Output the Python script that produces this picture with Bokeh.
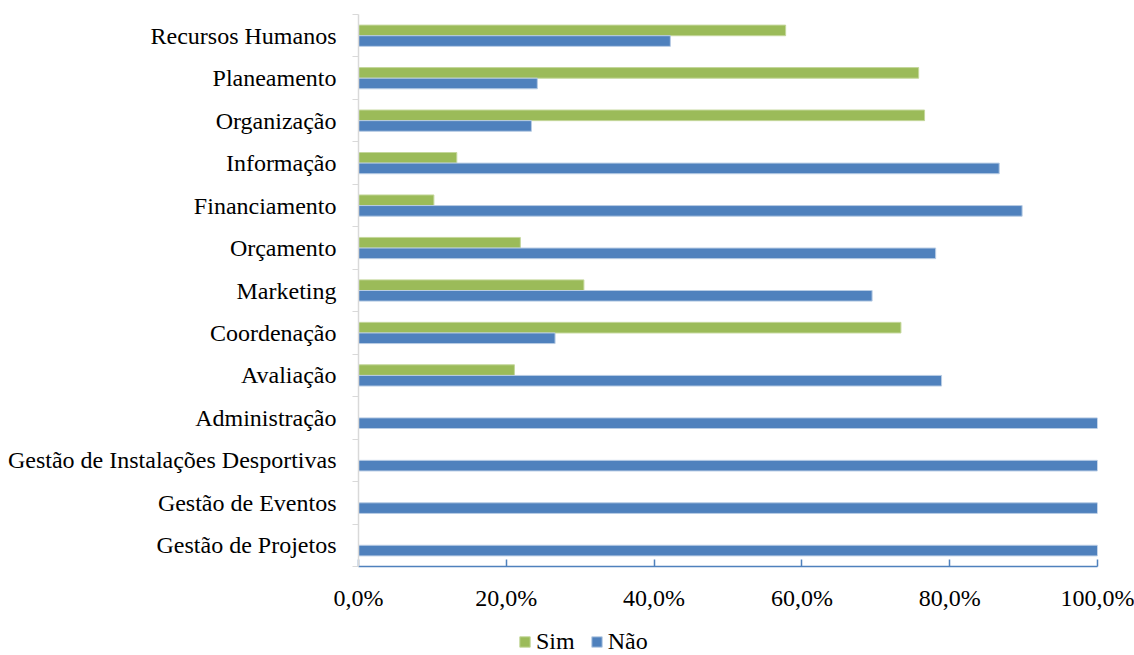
from bokeh.plotting import figure
from bokeh.layouts import column
from bokeh.models import FixedTicker, Legend, LegendItem, ColumnDataSource
from bokeh.transform import dodge
from bokeh.embed import file_html
from bokeh.resources import INLINE

# Data (bottom to top)
categories = ["Gestão de Projetos", "Gestão de Eventos", "Gestão de Instalações Desportivas",
              "Administração", "Avaliação", "Coordenação", "Marketing", "Orçamento",
              "Financiamento", "Informação", "Organização", "Planeamento", "Recursos Humanos"]
sim = [0.0, 0.0, 0.0, 0.0, 21.1, 73.4, 30.5, 21.9, 10.2, 13.3, 76.6, 75.8, 57.8]
nao = [100.0, 100.0, 100.0, 100.0, 78.9, 26.6, 69.5, 78.1, 89.8, 86.7, 23.4, 24.2, 42.2]
x_ticks = [0, 20, 40, 60, 80, 100]
x_tick_labels = ["0,0%", "20,0%", "40,0%", "60,0%", "80,0%", "100,0%"]
series_names = ["Sim", "Não"]

GREEN = "#9bbb59"
BLUE = "#4f81bd"
GREEN_EDGE = "#c4d79b"
BLUE_EDGE = "#b8cce4"
FONT = "Liberation Serif"

ypos = list(range(len(categories)))
src = ColumnDataSource(dict(y=ypos, sim=sim, nao=nao))

p = figure(width=1134, height=615, x_range=(0, 100), y_range=(-0.5, len(categories) - 0.5),
           output_backend="svg", toolbar_location=None,
           min_border_left=358, min_border_right=37, min_border_top=14, min_border_bottom=49)
p.outline_line_color = None
p.grid.visible = False
p.background_fill_color = "white"
p.border_fill_color = "white"

p.hbar(y=dodge("y", 0.125), left=0, right="sim", height=0.25, source=src,
       fill_color=GREEN, line_color=GREEN_EDGE, line_width=1)
p.hbar(y=dodge("y", -0.125), left=0, right="nao", height=0.25, source=src,
       fill_color=BLUE, line_color=BLUE_EDGE, line_width=1)

# y axis
ya = p.yaxis[0]
ya.ticker = FixedTicker(ticks=ypos, minor_ticks=[i - 0.5 for i in range(len(categories) + 1)])
ya.major_label_overrides = {i: c for i, c in enumerate(categories)}
ya.major_tick_line_color = None
ya.major_tick_out = 0
ya.major_tick_in = 0
ya.minor_tick_line_color = "#d9d9d9"
ya.minor_tick_out = 6
ya.minor_tick_in = 0
ya.axis_line_color = "#d9d9d9"
ya.axis_line_width = 1.5
ya.major_label_standoff = 16
ya.major_label_text_font = FONT
ya.major_label_text_font_size = "24px"
ya.major_label_text_color = "black"

# x axis
xa = p.xaxis[0]
xa.ticker = FixedTicker(ticks=x_ticks, minor_ticks=[])
xa.major_label_overrides = {t: l for t, l in zip(x_ticks, x_tick_labels)}
xa.axis_line_color = BLUE
xa.axis_line_width = 1.5
xa.major_tick_line_color = BLUE
xa.major_tick_line_width = 1.5
xa.major_tick_in = 7
xa.major_tick_out = 0
xa.minor_tick_line_color = None
xa.major_label_standoff = 18
xa.major_label_text_font = FONT
xa.major_label_text_font_size = "24px"
xa.major_label_text_color = "black"

# legend strip below the chart (same series, kept out of view)
q = figure(width=1134, height=40, x_range=(0, 100), y_range=(100, 101),
           output_backend="svg", toolbar_location=None,
           x_axis_location=None, y_axis_location=None,
           min_border_left=0, min_border_right=0, min_border_top=0, min_border_bottom=0)
q.outline_line_color = None
q.grid.visible = False
q.border_fill_color = "white"
q.background_fill_color = "white"
l_sim = q.hbar(y=dodge("y", 0.125), left=0, right="sim", height=0.25, source=src,
               fill_color=GREEN, line_color=GREEN_EDGE, line_width=1)
l_nao = q.hbar(y=dodge("y", -0.125), left=0, right="nao", height=0.25, source=src,
               fill_color=BLUE, line_color=BLUE_EDGE, line_width=1)

legend = Legend(items=[LegendItem(label=series_names[0], renderers=[l_sim]),
                       LegendItem(label=series_names[1], renderers=[l_nao])],
                location=(160, 0), orientation="horizontal",
                border_line_color=None, background_fill_alpha=0,
                glyph_width=13, glyph_height=13, label_standoff=5, spacing=15,
                padding=0, margin=0,
                label_text_font=FONT, label_text_font_size="24px", label_text_color="black")
q.add_layout(legend)

layout = column(p, q, spacing=0)
open("out.html", "w").write(file_html(layout, INLINE))
